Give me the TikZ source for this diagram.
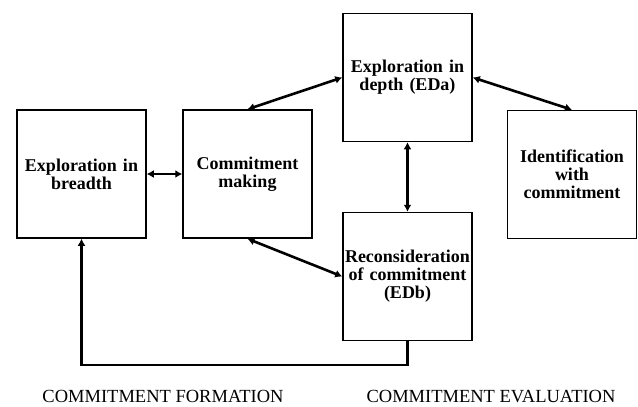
\documentclass[tikz,border=0pt]{standalone}
\usepackage{fontspec}
\setmainfont{Liberation Serif}
\usetikzlibrary{arrows.meta}
\tikzstyle{diagram} = [x = 1pt, y = -1pt]
\tikzstyle{stageBox} = [draw, line width = 1.5pt, minimum width = 129pt, minimum height = 128pt, text width = 127pt, inner sep = 0pt, align = center, font = \fontsize{18}{18}\selectfont\bfseries]
\tikzstyle{linkArrow} = [line width = 2.6pt, {Latex[length=7pt,width=8pt]}-{Latex[length=7pt,width=8pt]}]
\tikzstyle{feedbackArrow} = [line width = 2.6pt, -{Latex[length=7pt,width=8pt]}]
\tikzstyle{phaseLabel} = [anchor = base, inner sep = 0pt, font = \fontsize{18.5}{18.5}\selectfont]
\newcommand{\stage}[4]{\node [stageBox] (#1) at (#2, #3) {#4};}

\begin{document}
\begin{tikzpicture}[diagram]
  \useasboundingbox (0,0) rectangle (638,407);
  \stage{breadth}{81.5}{174}{Exploration in\\breadth}
  \stage{making}{247.5}{174}{Commitment\\making}
  \stage{depth}{407.5}{77.5}{Exploration in\\depth (EDa)}
  \stage{identification}{572}{174.5}{Identification\\with\\commitment}
  \stage{reconsideration}{407.5}{276.5}{Reconsideration\\of commitment\\(EDb)}

  \draw [linkArrow] (breadth.east) -- (making.east -| making.west);
  \draw [linkArrow] (making.north) -- (depth.west);
  \draw [linkArrow] (depth.east) -- (identification.north);
  \draw [linkArrow] (depth.south) -- (reconsideration.north);
  \draw [linkArrow] (making.south) -- (reconsideration.west);

  \coordinate (returnLevel) at (0, 365);
  \draw [feedbackArrow] (reconsideration.south) -- (reconsideration.south |- returnLevel) -| (breadth.south);

  \node [phaseLabel] (formation) at (163, 402) {COMMITMENT FORMATION};
  \node [phaseLabel] (evaluation) at (491, 402) {COMMITMENT EVALUATION};
\end{tikzpicture}
\end{document}
